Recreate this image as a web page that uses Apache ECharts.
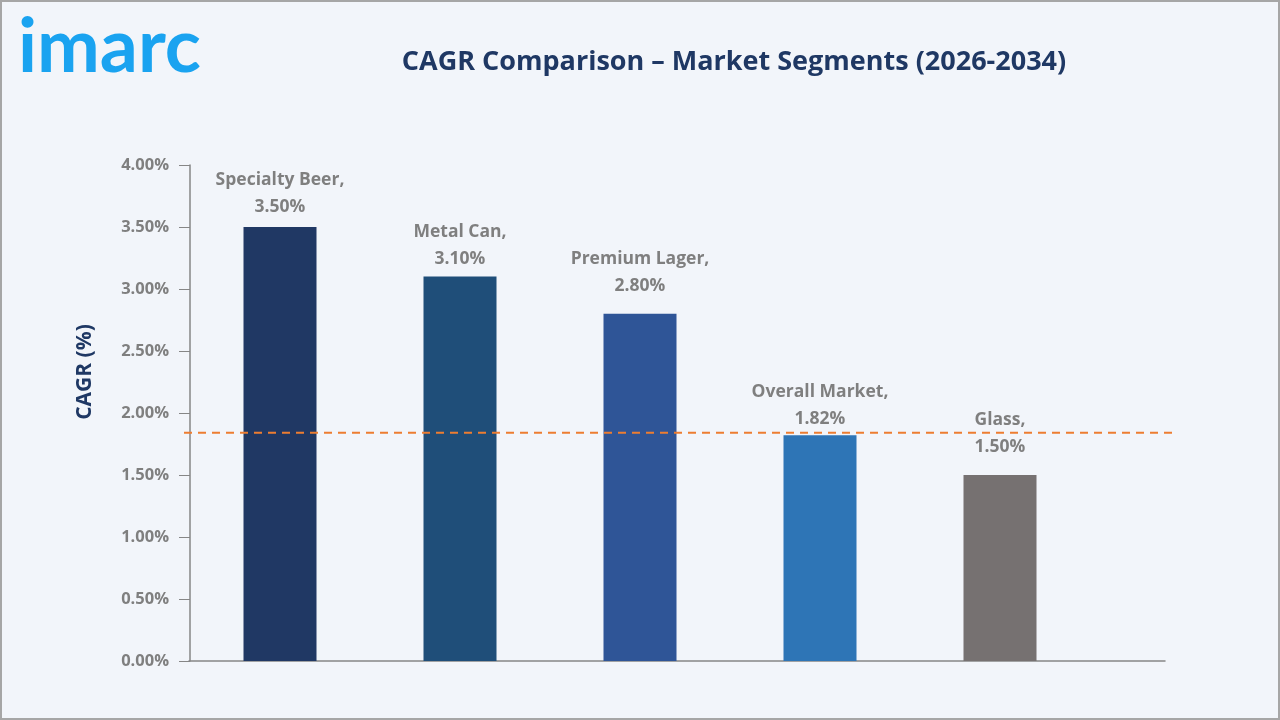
<!DOCTYPE html>
<html>
<head>
<meta charset="utf-8">
<script src="https://cdn.jsdelivr.net/npm/echarts@6/dist/echarts.min.js"></script>
<style>
  html, body { margin: 0; padding: 0; background: #f2f5fa; }
  #chart { width: 1280px; height: 720px; box-sizing: border-box; border: 2px solid #a6a6a6; }
</style>
</head>
<body>
<div id="chart"></div>
<script>
// segments and their CAGR (%)
const categories = ['Specialty Beer', 'Metal Can', 'Premium Lager', 'Overall Market', 'Glass'];
const cagrValues = [3.5, 3.1, 2.8, 1.82, 1.5];
const referenceLine = [1.84, 1.84]; // dashed overall-market line
const yTicks = { min: 0, max: 4, interval: 0.5 };

// styling per bar
const barColors = ['#203864', '#1f4e79', '#2f5597', '#2e75b6', '#767171'];
const labelGaps = [6, 4, 14, 3, 14];

const chart = echarts.init(document.getElementById('chart'));
const font = '"Open Sans", "Noto Sans", sans-serif';
const gray = '#7f7f7f';

const option = {
  backgroundColor: '#f2f5fa',
  animation: false,
  title: {
    text: 'CAGR Comparison – Market Segments (2026-2034)',
    left: 727, top: 42, textAlign: 'center',
    textStyle: { fontFamily: font, fontSize: 27, fontWeight: 'bold', color: '#1f3864' }
  },
  graphic: [
    {
      type: 'text', left: 16, top: 8,
      style: { text: 'imarc', fontFamily: 'Lato, sans-serif', fontWeight: 'bold', fontSize: 75, fill: '#1aa3f0' }
    },
    {
      type: 'text', x: 83, y: 370, rotation: Math.PI / 2,
      style: { text: 'CAGR (%)', fontFamily: font, fontSize: 21, fontWeight: 'bold', fill: '#1f3864', align: 'center', verticalAlign: 'middle' }
    }
  ],
  grid: [
    { left: 188, width: 900, top: 163, bottom: 57 },   // bars
    { left: 187, right: 113, top: 163, bottom: 57 },   // long x axis line
    { left: 182, right: 103, top: 163, bottom: 57 }    // dashed reference line
  ],
  xAxis: [
    { type: 'category', gridIndex: 0, data: categories, axisLine: { show: false }, axisTick: { show: false }, axisLabel: { show: false } },
    { type: 'value', gridIndex: 1, min: 0, max: 1, axisLine: { show: true, onZero: false, lineStyle: { color: '#868686', width: 1.5 } }, axisTick: { show: false }, axisLabel: { show: false }, splitLine: { show: false } },
    { type: 'value', gridIndex: 2, min: 0, max: 1, show: false }
  ],
  yAxis: [
    {
      type: 'value', gridIndex: 0, min: yTicks.min, max: yTicks.max, interval: yTicks.interval,
      axisLine: { show: true, lineStyle: { color: '#868686', width: 1.5 } },
      axisTick: { show: true, inside: false, length: 11, lineStyle: { color: '#868686' } },
      axisLabel: { fontFamily: font, fontSize: 16.5, fontWeight: 'bold', color: gray, margin: 21, formatter: v => v.toFixed(2) + '%' },
      splitLine: { show: false }
    },
    { type: 'value', gridIndex: 1, min: yTicks.min, max: yTicks.max, show: false },
    { type: 'value', gridIndex: 2, min: yTicks.min, max: yTicks.max, show: false }
  ],
  series: [
    {
      type: 'bar', xAxisIndex: 0, yAxisIndex: 0, barWidth: 73,
      data: cagrValues.map((v, i) => ({
        value: v,
        itemStyle: { color: barColors[i] },
        label: { distance: labelGaps[i] }
      })),
      label: {
        show: true, position: 'top', distance: 7, lineHeight: 27,
        fontFamily: font, fontSize: 17.5, fontWeight: 'bold', color: gray,
        formatter: p => p.name + ',\n' + p.value.toFixed(2) + '%'
      }
    },
    {
      type: 'line', xAxisIndex: 2, yAxisIndex: 2, symbol: 'none', z: 5,
      data: referenceLine.map((v, i) => [i, v]),
      lineStyle: { color: '#ed7d31', width: 2, type: [8, 6] }
    }
  ]
};
chart.setOption(option);
</script>
</body>
</html>
